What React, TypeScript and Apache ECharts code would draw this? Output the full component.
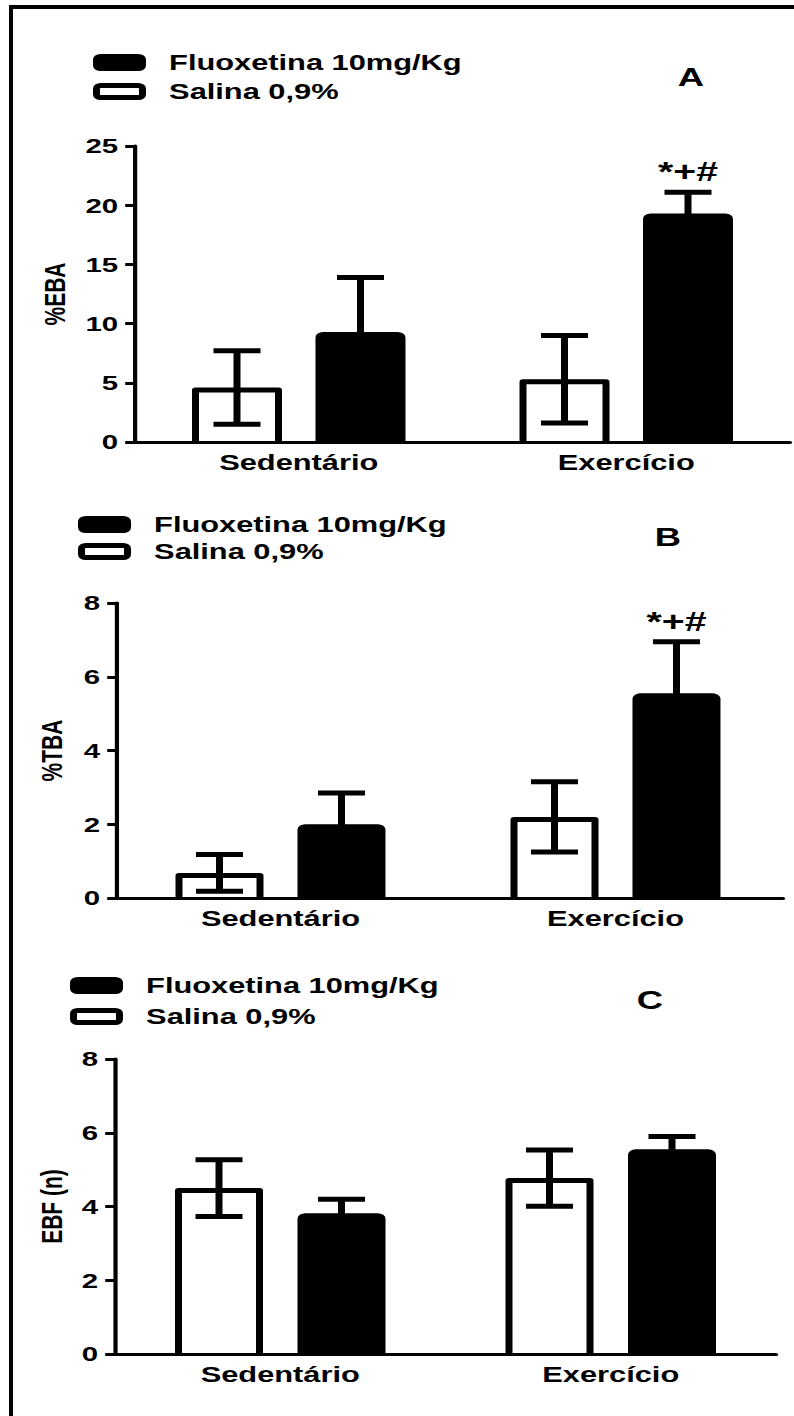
import React, { useEffect, useRef } from 'react';
import * as echarts from 'echarts';

// ---------------- data ----------------
const categories = ['Sedentário', 'Exercício'];
const salinaName = 'Salina 0,9%';
const fluoxName = 'Fluoxetina 10mg/Kg';

// Panel A: %EBA
const salinaA = [4.6, 5.3];
const salinaErrA = [3.1, 3.7];
const fluoxA = [9.3, 19.3];
const fluoxErrA = [4.6, 1.8];
const annotA = ['', '*+#'];

// Panel B: %TBA
const salinaB = [0.68, 2.2];
const salinaErrB = [0.5, 0.95];
const fluoxB = [2.0, 5.55];
const fluoxErrB = [0.85, 1.4];
const annotB = ['', '*+#'];

// Panel C: EBF (n)
const salinaC = [4.5, 4.77];
const salinaErrC = [0.77, 0.76];
const fluoxC = [3.82, 5.55];
const fluoxErrC = [0.38, 0.35];
const annotC = ['', ''];

const yAxisA = { name: '%EBA', min: 0, max: 25, interval: 5 };
const yAxisB = { name: '%TBA', min: 0, max: 8, interval: 2 };
const yAxisC = { name: 'EBF (n)', min: 0, max: 8, interval: 2 };
const panelLetters = ['A', 'B', 'C'];

// ---------------- layout ----------------
const W0 = 567;
const S = 794 / W0; // the reference figure is stretched horizontally
const X = (v: number) => v / S;
const FONT = '"Liberation Sans", Arial, Helvetica, sans-serif';
const BW = 5;

const panels = [
  {
    y: yAxisA, salina: salinaA, salinaErr: salinaErrA, fluox: fluoxA, fluoxErr: fluoxErrA, annot: annotA,
    grid: { left: X(135), top: 146, width: X(655), height: 296 }, axisOffset: 0,
    nameGap: 47, outer: X(90), sep: X(123.5),
    legend: { left: X(93), top: 51.5, gap: 7 },
    letter: [X(691), 77],
  },
  {
    y: yAxisB, salina: salinaB, salinaErr: salinaErrB, fluox: fluoxB, fluoxErr: fluoxErrB, annot: annotB,
    grid: { left: X(113), top: 603, width: X(670), height: 295 }, axisOffset: -X(4),
    nameGap: 36, outer: X(88), sep: X(122),
    legend: { left: X(78), top: 513.5, gap: 5 },
    letter: [X(668), 537],
  },
  {
    y: yAxisC, salina: salinaC, salinaErr: salinaErrC, fluox: fluoxC, fluoxErr: fluoxErrC, annot: annotC,
    grid: { left: X(115), top: 1059, width: X(661), height: 295 }, axisOffset: 0,
    nameGap: 34, outer: X(88), sep: X(122.5),
    legend: { left: X(70), top: 974.5, gap: 9 },
    letter: [X(650), 1000],
  },
];

function buildOption() {
  const grid: any[] = [];
  const xAxis: any[] = [];
  const yAxis: any[] = [];
  const series: any[] = [];
  const legend: any[] = [];
  const graphic: any[] = [
    { type: 'rect', shape: { x: X(9), y: 5, width: W0, height: 4 }, style: { fill: '#000' }, z: 10 },
    { type: 'rect', shape: { x: X(9), y: 5, width: X(4), height: 1416 }, style: { fill: '#000' }, z: 10 },
  ];

  panels.forEach((p, i) => {
    const barW = p.outer; // ECharts keeps the border inside barWidth
    const gapFrac = (p.sep - barW) / barW;
    const offset = p.sep / 2;
    const capHalf = X(23.5);

    grid.push({ ...p.grid, containLabel: false, outerBoundsMode: 'none' });
    xAxis.push({
      type: 'category', gridIndex: i, data: categories,
      axisLine: { show: true, lineStyle: { color: '#000', width: 3 } },
      axisTick: { show: false },
      axisLabel: { color: '#000', fontFamily: FONT, fontWeight: 'bold', fontSize: 22, margin: 10 },
      splitLine: { show: false },
      z: 3,
    });
    yAxis.push({
      type: 'value', gridIndex: i, min: p.y.min, max: p.y.max, interval: p.y.interval,
      offset: p.axisOffset,
      name: p.y.name, nameLocation: 'middle', nameRotate: 90, nameGap: p.nameGap,
      nameTextStyle: { color: '#000', fontFamily: FONT, fontWeight: 'bold', fontSize: 21 },
      axisLine: { show: true, lineStyle: { color: '#000', width: 3 } },
      axisTick: { show: true, length: 7, lineStyle: { color: '#000', width: 3 } },
      axisLabel: { color: '#000', fontFamily: FONT, fontWeight: 'bold', fontSize: 21, margin: 12 },
      splitLine: { show: false },
      z: 3,
    });
    // white bars: fill only; the open outline (no base) is drawn by the custom series below
    series.push({
      type: 'bar', name: salinaName, xAxisIndex: i, yAxisIndex: i, data: p.salina,
      barWidth: barW, barGap: `${(gapFrac * 100).toFixed(1)}%`,
      itemStyle: { color: '#fff', borderWidth: 0 },
      z: 2,
    });
    series.push({
      type: 'bar', name: fluoxName, xAxisIndex: i, yAxisIndex: i, data: p.fluox,
      barWidth: barW, barGap: `${(gapFrac * 100).toFixed(1)}%`,
      itemStyle: { color: '#000', borderColor: '#000', borderWidth: BW, borderRadius: [3, 3, 0, 0] },
      z: 2,
    });
    const errData: any[] = [];
    const annots: string[] = [];
    categories.forEach((_, c) => {
      errData.push([c, p.salina[c] - p.salinaErr[c], p.salina[c] + p.salinaErr[c], -1, p.salina[c]]);
      annots.push('');
    });
    categories.forEach((_, c) => {
      errData.push([c, p.fluox[c] - p.fluoxErr[c], p.fluox[c] + p.fluoxErr[c], 1, p.fluox[c]]);
      annots.push(p.annot[c]);
    });
    series.push({
      type: 'custom', name: 'erro', xAxisIndex: i, yAxisIndex: i, data: errData,
      encode: { x: 0, y: [1, 2] }, z: 5,
      renderItem: (params: any, api: any) => {
        const cat = api.value(0);
        const side = api.value(3);
        const lo = api.coord([cat, api.value(1)]);
        const hi = api.coord([cat, api.value(2)]);
        const x = hi[0] + side * offset;
        const st = { stroke: '#000', lineWidth: BW, fill: null };
        const children: any[] = [];
        if (side < 0) {
          const top = api.coord([cat, api.value(4)])[1] + BW / 2;
          const base = api.coord([cat, 0])[1];
          const xl = x - barW / 2 + BW / 2;
          const xr = x + barW / 2 - BW / 2;
          children.push({
            type: 'polyline',
            shape: { points: [[xl, base], [xl, top], [xr, top], [xr, base]] },
            style: { stroke: '#000', lineWidth: BW, fill: null, lineJoin: 'round' },
          });
        }
        children.push(
          { type: 'line', shape: { x1: x, y1: hi[1], x2: x, y2: lo[1] }, style: st },
          { type: 'line', shape: { x1: x - capHalf, y1: hi[1], x2: x + capHalf, y2: hi[1] }, style: st },
          { type: 'line', shape: { x1: x - capHalf, y1: lo[1], x2: x + capHalf, y2: lo[1] }, style: st },
        );
        const t = annots[params.dataIndex];
        if (t) {
          children.push({
            type: 'text', x, y: hi[1] - 21,
            style: { text: t, fill: '#000', font: `bold 28px ${FONT}`, align: 'center', verticalAlign: 'middle' },
          });
        }
        return { type: 'group', children };
      },
    });
    legend.push({
      orient: 'vertical', left: p.legend.left, top: p.legend.top, padding: 0, itemGap: p.legend.gap,
      itemWidth: X(53) - BW, itemHeight: 17 - BW, icon: 'roundRect', selectedMode: false,
      itemStyle: { borderWidth: BW, borderColor: '#000' },
      data: [
        { name: fluoxName, itemStyle: { color: '#000', borderColor: '#000', borderWidth: BW } },
        { name: salinaName, itemStyle: { color: '#fff', borderColor: '#000', borderWidth: BW } },
      ],
      textStyle: { color: '#000', fontFamily: FONT, fontWeight: 'bold', fontSize: 22, lineHeight: 20, padding: [0, 0, 0, 14] },
    });
    graphic.push({
      type: 'text', x: p.letter[0], y: p.letter[1],
      style: { text: panelLetters[i], fill: '#000', font: `bold 26px ${FONT}`, align: 'center', verticalAlign: 'middle' },
    });
  });

  return {
    animation: false,
    backgroundColor: '#fff',
    grid, xAxis, yAxis, series, legend, graphic,
  };
}

export default function App() {
  const ref = useRef<HTMLDivElement>(null);
  useEffect(() => {
    document.body.style.margin = '0';
    if (!ref.current) return;
    const chart = echarts.init(ref.current, null, { renderer: 'svg' });
    chart.setOption(buildOption() as any);
    return () => chart.dispose();
  }, []);
  return (
    <div style={{ position: 'absolute', left: 0, top: 0, width: 794, height: 1416, overflow: 'hidden', background: '#fff' }}>
      <div
        ref={ref}
        style={{ width: W0, height: 1416, transform: `scaleX(${S})`, transformOrigin: '0 0' }}
      />
    </div>
  );
}
